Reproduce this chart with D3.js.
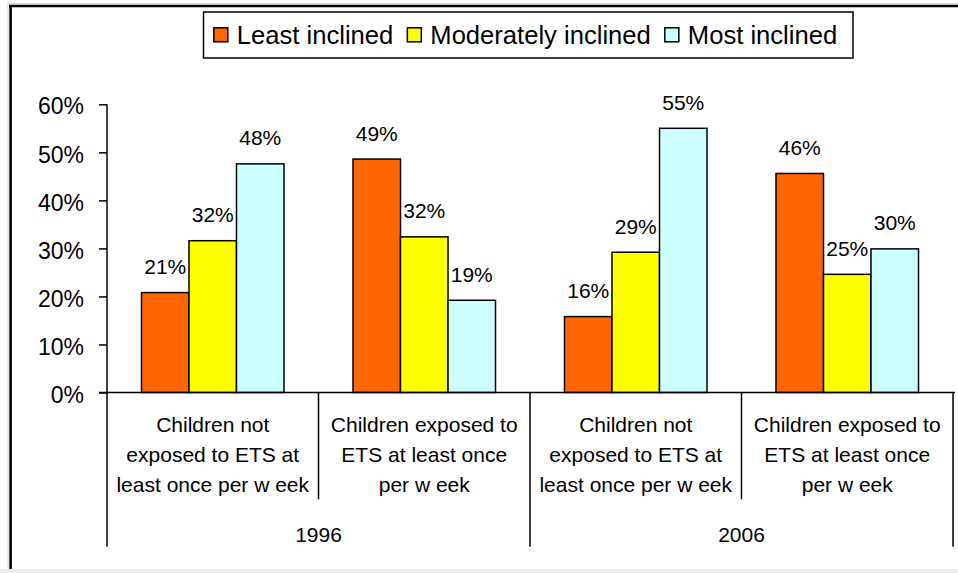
<!DOCTYPE html>
<html>
<head>
<meta charset="utf-8">
<script src="https://cdn.jsdelivr.net/npm/d3@7"></script>
<style>
  html, body { margin: 0; padding: 0; background: #fff; }
  svg { display: block; font-family: Arial, "Liberation Sans", sans-serif; }
</style>
</head>
<body>
<svg id="chart" width="958" height="573"></svg>
<script>
// chart data
const years = ["1996", "2006"];
const groupLines = [
  ["Children not", "exposed to ETS at", "least once per w eek"],
  ["Children exposed to", "ETS at least once", "per w eek"]
];
const categories = ["1996-not", "1996-exposed", "2006-not", "2006-exposed"];
const seriesNames = ["Least inclined", "Moderately inclined", "Most inclined"];
const seriesColors = ["#ff6600", "#ffff00", "#ccffff"];
const leastInclined = [0.208, 0.486, 0.158, 0.456];
const moderatelyInclined = [0.316, 0.324, 0.292, 0.246];
const mostInclined = [0.476, 0.192, 0.55, 0.299];
const yTicks = [0, 0.1, 0.2, 0.3, 0.4, 0.5, 0.6];

const seriesValues = [leastInclined, moderatelyInclined, mostInclined];

const svg = d3.select("#chart");
const plot = { left: 107, right: 953, top: 104.3, bottom: 392.5 };

// outer frame of the chart
svg.append("rect").attr("x", 8).attr("y", 3.5).attr("width", 960).attr("height", 580)
  .attr("fill", "none").attr("stroke", "#d8d8d8").attr("stroke-width", 1);
svg.append("rect").attr("x", 0).attr("y", 569).attr("width", 958).attr("height", 4).attr("fill", "#ececec");
svg.append("line").attr("x1", 9).attr("x2", 958).attr("y1", 6).attr("y2", 6)
  .attr("stroke", "#000").attr("stroke-width", 2.6);
svg.append("line").attr("x1", 10.6).attr("x2", 10.6).attr("y1", 5).attr("y2", 569)
  .attr("stroke", "#000").attr("stroke-width", 2.6);

// scales
const x0 = d3.scaleBand().domain(categories).range([plot.left, plot.right]).padding(0);
const x1 = d3.scaleBand().domain(seriesNames).range([0, x0.bandwidth()]).paddingInner(0).paddingOuter(0.726);
const y = d3.scaleLinear().domain([0, 0.6]).range([plot.bottom, plot.top]);
const fmt = d3.format(".0%");

// y axis
const yAxis = svg.append("g")
  .attr("transform", `translate(${plot.left},0)`)
  .call(d3.axisLeft(y).tickValues(yTicks).tickFormat(fmt).tickSize(8).tickPadding(15));
yAxis.select(".domain").remove();
yAxis.selectAll(".tick line").attr("stroke", "#000").attr("stroke-width", 1.5);
yAxis.selectAll(".tick text")
  .attr("font-size", 23)
  .attr("fill", "#000")
  .attr("dy", "0.42em");

// bars
const bars = svg.append("g");
categories.forEach((cat, i) => {
  seriesNames.forEach((name, s) => {
    const v = seriesValues[s][i];
    const bx = x0(cat) + x1(name);
    bars.append("rect")
      .attr("x", bx)
      .attr("y", y(v))
      .attr("width", x1.bandwidth())
      .attr("height", y(0) - y(v))
      .attr("fill", seriesColors[s])
      .attr("stroke", "#000")
      .attr("stroke-width", 1.5);

    bars.append("text")
      .attr("x", bx + x1.bandwidth() / 2)
      .attr("y", y(v) - 18.5)
      .attr("text-anchor", "middle")
      .attr("font-size", 21)
      .attr("fill", "#000")
      .text(fmt(v));
  });
});

// axis lines (value axis runs down through the category table)
const axisBottom = 546.7;
const catTickBottom = 499.3;
svg.append("line").attr("x1", plot.left).attr("x2", plot.left).attr("y1", plot.top).attr("y2", axisBottom)
  .attr("stroke", "#000").attr("stroke-width", 1.5);
svg.append("line").attr("x1", plot.left - 8).attr("x2", plot.right + 2).attr("y1", y(0)).attr("y2", y(0))
  .attr("stroke", "#000").attr("stroke-width", 1.5);

// category separators and labels
categories.forEach((cat, i) => {
  const right = x0(cat) + x0.bandwidth();
  const isYearEnd = i % 2 === 1;
  svg.append("line")
    .attr("x1", right).attr("x2", right)
    .attr("y1", y(0)).attr("y2", isYearEnd ? axisBottom : catTickBottom)
    .attr("stroke", "#000").attr("stroke-width", 1.5);

  const label = svg.append("text")
    .attr("text-anchor", "middle")
    .attr("font-size", 21)
    .attr("fill", "#000");
  groupLines[i % 2].forEach((line, k) => {
    label.append("tspan")
      .attr("x", x0(cat) + x0.bandwidth() / 2)
      .attr("y", 432.3 + k * 29.7)
      .text(line);
  });
});

// year labels
years.forEach((yr, j) => {
  const start = x0(categories[j * 2]);
  const end = x0(categories[j * 2 + 1]) + x0.bandwidth();
  svg.append("text")
    .attr("x", (start + end) / 2)
    .attr("y", 541.5)
    .attr("text-anchor", "middle")
    .attr("font-size", 21)
    .attr("fill", "#000")
    .text(yr);
});

// legend
const legend = svg.append("g");
legend.append("rect")
  .attr("x", 203.5).attr("y", 12).attr("width", 649.5).attr("height", 46)
  .attr("fill", "#fff").attr("stroke", "#000").attr("stroke-width", 1.5);

let lx = 213.8;
seriesNames.forEach((name, s) => {
  legend.append("rect")
    .attr("x", lx).attr("y", 27.8).attr("width", 14).attr("height", 14)
    .attr("fill", seriesColors[s]).attr("stroke", "#000").attr("stroke-width", 1.5);
  const t = legend.append("text")
    .attr("x", lx + 23)
    .attr("y", 44)
    .attr("font-size", 25.6)
    .attr("fill", "#000")
    .text(name);
  lx = lx + 23 + t.node().getComputedTextLength() + 14;
});
</script>
</body>
</html>
